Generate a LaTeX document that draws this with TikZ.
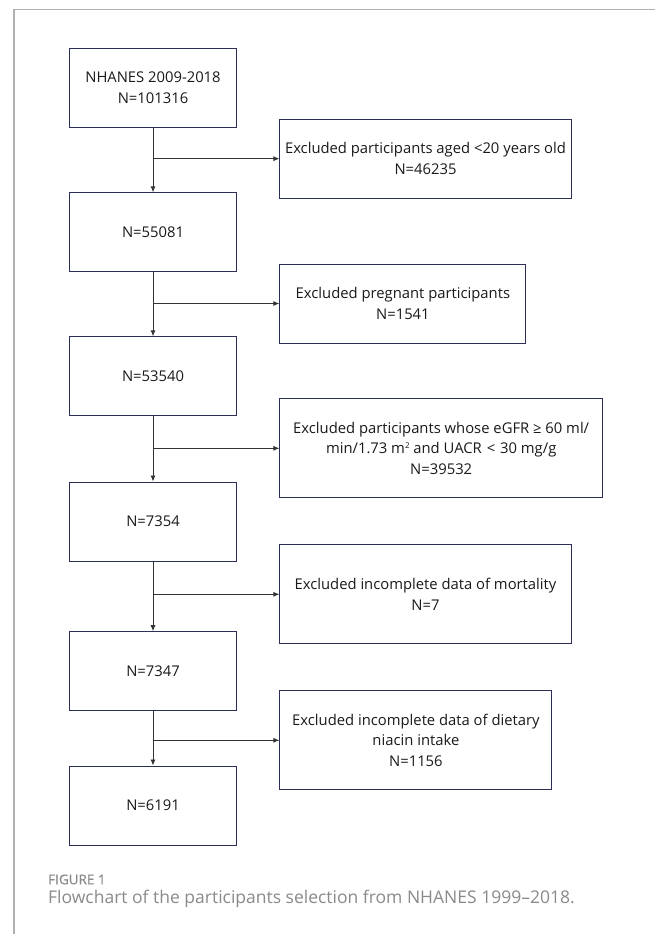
\documentclass[tikz,border=0pt]{standalone}
\usepackage{fontspec}
\setmainfont{Open Sans}
\usetikzlibrary{arrows.meta}
\definecolor{boxline}{HTML}{2B2F55}
\definecolor{conn}{HTML}{333333}
\definecolor{framec}{HTML}{B0B0B0}
\definecolor{capc}{HTML}{8A8A8A}
\definecolor{txt}{HTML}{1A1A1A}
\newcommand{\smallsup}[1]{\raisebox{5.5pt}{\fontsize{8}{8}\selectfont #1}}
\begin{document}
\begin{tikzpicture}[x=1pt,y=-1pt,
  stepbox/.style={draw=boxline,line width=1pt,fill=white,minimum width=167.4pt,
    minimum height=79pt,inner sep=0pt,align=center,
    font=\fontsize{14.8}{20.7}\selectfont,text=txt},
  exclbox/.style={stepbox,anchor=west},
  flow/.style={draw=conn,line width=0.9pt,-{Latex[length=6pt,width=5pt]}},
  frameline/.style={draw=framec,line width=1.5pt},
  figlabel/.style={anchor=west,inner sep=0pt,text=capc}]
\useasboundingbox (0,0) rectangle (655,934);
\fill[white] (0,0) rectangle (655,934);
% frame
\coordinate (fbl) at (14,934);
\coordinate (ftl) at (14,9.5);
\coordinate (ftr) at (655,9.5);
\draw[frameline] (fbl) -- (ftl) -- (ftr);
% main boxes
\node[stepbox] (b1) at (153,87.8) {NHANES 2009-2018\\N=101316};
\node[stepbox] (b2) at (153,232.3) {N=55081};
\node[stepbox] (b3) at (153,376.3) {N=53540};
\node[stepbox] (b4) at (153,521.5) {N=7354};
\node[stepbox] (b5) at (153,671.2) {N=7347};
\node[stepbox] (b6) at (153,805.5) {N=6191};
% exclusion boxes
\node[exclbox,minimum width=291.2pt,minimum height=79.3pt] (e1) at (279.4,158.7)
  {Excluded participants aged <20 years old\\N=46235};
\node[exclbox,minimum width=246pt,minimum height=79pt] (e2) at (279.4,303.5)
  {Excluded pregnant participants\\N=1541};
\node[exclbox,minimum width=322.6pt,minimum height=98.7pt] (e3) at (279.4,448.3)
  {Excluded participants whose eGFR ≥ 60 ml/\\min/1.73 m\smallsup{2} and UACR\,\,<\,\,30 mg/g\\N=39532};
\node[exclbox,minimum width=291.2pt,minimum height=99.3pt] (e4) at (279.4,594.3)
  {Excluded incomplete data of mortality\\N=7};
\node[exclbox,minimum width=272pt,minimum height=99.3pt] (e5) at (279.4,740.3)
  {Excluded incomplete data of dietary\\niacin intake\\N=1156};
% connectors
\draw[flow] (b1) -- (b2);
\draw[flow] (b2) -- (b3);
\draw[flow] (b3) -- (b4);
\draw[flow] (b4) -- (b5);
\draw[flow] (b5) -- (b6);
\draw[flow] (b1.south |- e1.west) -- (e1.west);
\draw[flow] (b2.south |- e2.west) -- (e2.west);
\draw[flow] (b3.south |- e3.west) -- (e3.west);
\draw[flow] (b4.south |- e4.west) -- (e4.west);
\draw[flow] (b5.south |- e5.west) -- (e5.west);
% caption
\node[figlabel,font=\fontsize{13.5}{16}\selectfont\addfontfeatures{FakeBold=0.6}] (fig) at (48,879.5) {FIGURE 1};
\node[figlabel,font=\fontsize{17.5}{21}\selectfont] (cap) at (48,898.5)
  {Flowchart of the participants selection from NHANES 1999–2018.};
\end{tikzpicture}
\end{document}
